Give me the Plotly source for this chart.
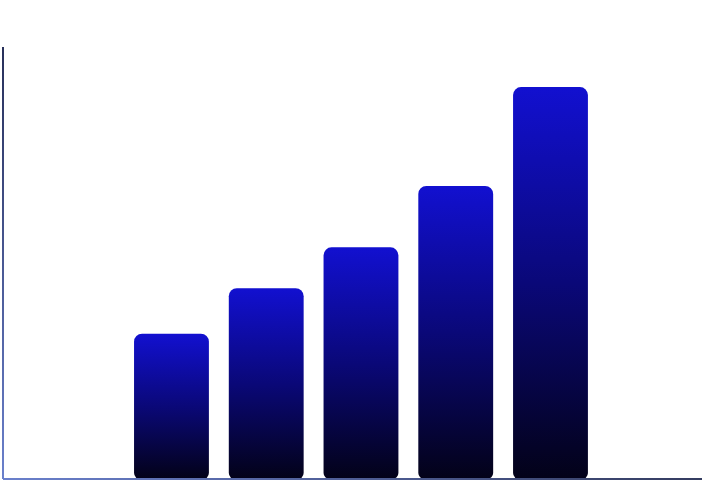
import plotly.graph_objects as go

categories = ["A", "B", "C", "D", "E"]
values = [37, 48.6, 59, 74.6, 99.8]

fig = go.Figure()
fig.add_trace(go.Bar(
    x=categories, y=values,
    width=0.79,
    marker=dict(color="#1210d0", line=dict(width=0), cornerradius=8),
    hoverinfo="skip",
))

# axis lines (colour gradient applied after render)
shapes = [
    dict(type="line", xref="paper", yref="paper", x0=0, x1=0, y0=1, y1=0,
         line=dict(color="#3a4a8a", width=2)),
    dict(type="line", xref="paper", yref="paper", x0=0, x1=1, y0=0, y1=0,
         line=dict(color="#4a5a9a", width=2)),
]

fig.update_layout(
    width=712, height=481,
    margin=dict(l=3, r=10, t=47, b=2),
    paper_bgcolor="white", plot_bgcolor="white",
    showlegend=False,
    xaxis=dict(type="category", range=[-1.778, 5.599], showgrid=False, showticklabels=False,
               ticks="", zeroline=False, showline=False),
    yaxis=dict(range=[0, 110], showgrid=False, showticklabels=False, ticks="",
               zeroline=False, showline=False),
    shapes=shapes,
)

post = r"""
document.body.style.margin = '0';
document.body.style.padding = '0';
document.documentElement.style.overflow = 'hidden';
var gd = document.getElementById('{plot_id}');
var svg = gd.querySelector('svg.main-svg');
var ns = 'http://www.w3.org/2000/svg';
var defs = svg.querySelector('defs');
if (!defs) { defs = document.createElementNS(ns, 'defs'); svg.insertBefore(defs, svg.firstChild); }
function grad(id, stops, units, coords) {
  var lg = document.createElementNS(ns, 'linearGradient');
  lg.setAttribute('id', id);
  if (units) lg.setAttribute('gradientUnits', units);
  ['x1','y1','x2','y2'].forEach(function(k, i) { lg.setAttribute(k, String(coords[i])); });
  stops.forEach(function(s) {
    var st = document.createElementNS(ns, 'stop');
    st.setAttribute('offset', s[0]); st.setAttribute('stop-color', s[1]);
    lg.appendChild(st);
  });
  defs.appendChild(lg);
}
grad('barGrad', [['0', '#1210d0'], ['0.5', '#0a0878'], ['1', '#030218']], null, [0, 0, 0, 1]);
gd.querySelectorAll('.barlayer .point path').forEach(function(p) {
  var b = p.getBBox();
  var r = 8, r2 = 6, x = b.x, y = b.y, w = b.width, h = b.height;
  var d = 'M' + (x + r) + ',' + y + 'H' + (x + w - r) + 'A' + r + ',' + r + ' 0 0 1 ' + (x + w) + ',' + (y + r) +
          'V' + (y + h - r2) + 'A' + r2 + ',' + r2 + ' 0 0 1 ' + (x + w - r2) + ',' + (y + h) +
          'H' + (x + r2) + 'A' + r2 + ',' + r2 + ' 0 0 1 ' + x + ',' + (y + h - r2) +
          'V' + (y + r) + 'A' + r + ',' + r + ' 0 0 1 ' + (x + r) + ',' + y + 'Z';
  p.setAttribute('d', d);
  p.style.fill = 'url(#barGrad)';
  p.style.fillOpacity = 1;
});
var sp = gd.querySelectorAll('.shapelayer path');
if (sp.length >= 2) {
  var b0 = sp[0].getBBox(), b1 = sp[1].getBBox();
  grad('axY', [['0', '#28305a'], ['1', '#6a80cc']], 'userSpaceOnUse', [b0.x, b0.y, b0.x, b0.y + b0.height]);
  grad('axX', [['0', '#6a80cc'], ['1', '#343c60']], 'userSpaceOnUse', [b1.x, b1.y, b1.x + b1.width, b1.y]);
  sp[0].style.stroke = 'url(#axY)';
  sp[1].style.stroke = 'url(#axX)';
  sp[0].style.strokeOpacity = 1; sp[1].style.strokeOpacity = 1;
}
"""

fig.write_html("out.html", post_script=post, config={"displayModeBar": False})
